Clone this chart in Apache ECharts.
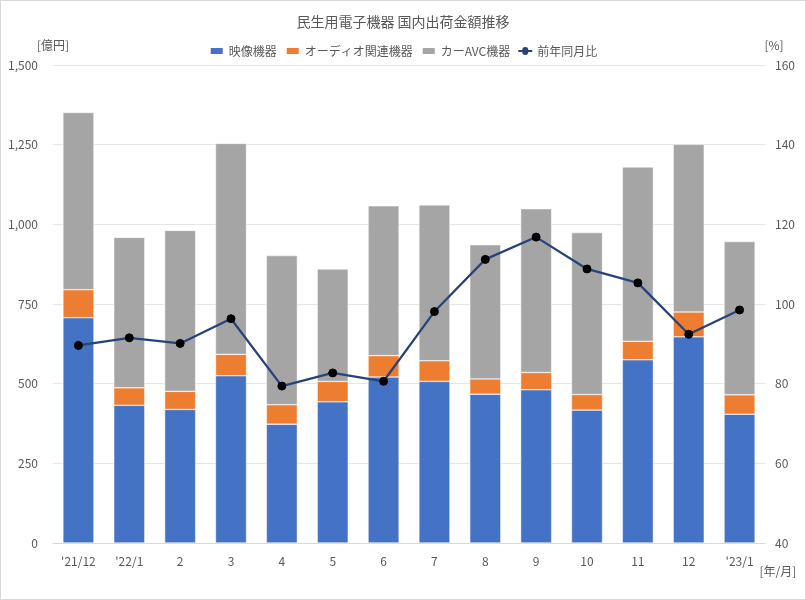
<!DOCTYPE html>
<html><head><meta charset="utf-8">
<script src="https://cdn.jsdelivr.net/npm/echarts@6/dist/echarts.min.js"></script>
<style>html,body{margin:0;padding:0;background:#fff}#c{width:804px;height:598px;border:1px solid #d9d9d9;}</style>
</head><body><div id="c"></div>
<script>
const categories = ["'21/12","'22/1","2","3","4","5","6","7","8","9","10","11","12","'23/1"];
const video = [707,432,419,525,373,443,521,507,467,481,417,575,647,404];
const audio = [88,55,57,67,61,64,67,65,48,54,49,58,78,61];
const carAvc = [556,472,505,662,468,353,470,489,421,514,508,547,526,481];
const yoy = [89.6,91.5,90.1,96.3,79.4,82.7,80.6,98.1,111.2,116.8,108.8,105.3,92.4,98.5];
const leftTicks = {min:0,max:1500,interval:250};
const rightTicks = {min:40,max:160,interval:20};

const font = '"Noto Sans CJK JP", "Noto Sans", sans-serif';
const txt = '#595959';
const chart = echarts.init(document.getElementById('c'));
chart.setOption({
  animation:false,
  textStyle:{fontFamily:font},
  title:{text:'民生用電子機器 国内出荷金額推移',left:'center',top:9,textStyle:{fontSize:14,fontWeight:'normal',color:txt,fontFamily:font}},
  legend:{top:39,left:'center',itemGap:8,itemWidth:14,itemHeight:8,textStyle:{fontSize:12,color:txt,fontFamily:font},
    data:[{name:'映像機器',icon:'rect'},{name:'オーディオ関連機器',icon:'rect'},{name:'カーAVC機器',icon:'rect'},
      {name:'前年同月比',icon:'path://M0,7 L4,7 A3,3 0 1 1 10,7 L14,7 L14,9 L10,9 A3,3 0 1 1 4,9 L0,9 Z',itemStyle:{color:'#264478'}}]},
  grid:{left:52,right:40,top:64,bottom:56},
  xAxis:{type:'category',data:categories,axisTick:{show:false},axisLine:{lineStyle:{color:'#d9d9d9'}},
    axisLabel:{color:txt,fontSize:12,margin:12,fontFamily:font},name:'[年/月]',nameLocation:'end',
    nameGap:0,nameTextStyle:{color:txt,fontSize:12,align:'right',verticalAlign:'top',padding:[22,6,0,0]}},
  yAxis:[
    {type:'value',min:leftTicks.min,max:leftTicks.max,interval:leftTicks.interval,
     axisLabel:{color:txt,fontSize:12,margin:15,formatter:v=>v.toLocaleString('en-US')},
     splitLine:{lineStyle:{color:'#e6e6e6'}},axisLine:{show:false},axisTick:{show:false},
     name:'[億円]',nameLocation:'end',nameGap:14,nameTextStyle:{color:txt,fontSize:12,align:'center',padding:[0,0,0,0]}},
    {type:'value',min:rightTicks.min,max:rightTicks.max,interval:rightTicks.interval,
     axisLabel:{color:txt,fontSize:12,margin:10},splitLine:{show:false},axisLine:{show:false},axisTick:{show:false},
     name:'[%]',nameLocation:'end',nameGap:14,nameTextStyle:{color:txt,fontSize:12,align:'center',padding:[0,0,0,18]}}
  ],
  series:[
    {name:'映像機器',type:'bar',stack:'a',data:video,barWidth:'61%',itemStyle:{color:'#4472C4',borderColor:'#fff',borderWidth:0.5}},
    {name:'オーディオ関連機器',type:'bar',stack:'a',data:audio,itemStyle:{color:'#ED7D31',borderColor:'#fff',borderWidth:0.5}},
    {name:'カーAVC機器',type:'bar',stack:'a',data:carAvc,itemStyle:{color:'#A5A5A5',borderColor:'#fff',borderWidth:0.5}},
    {name:'前年同月比',type:'line',yAxisIndex:1,data:yoy,symbol:'circle',symbolSize:8,
     lineStyle:{color:'#264478',width:2.25},itemStyle:{color:'#000',borderColor:'#000'},z:5}
  ]
});
</script></body></html>
